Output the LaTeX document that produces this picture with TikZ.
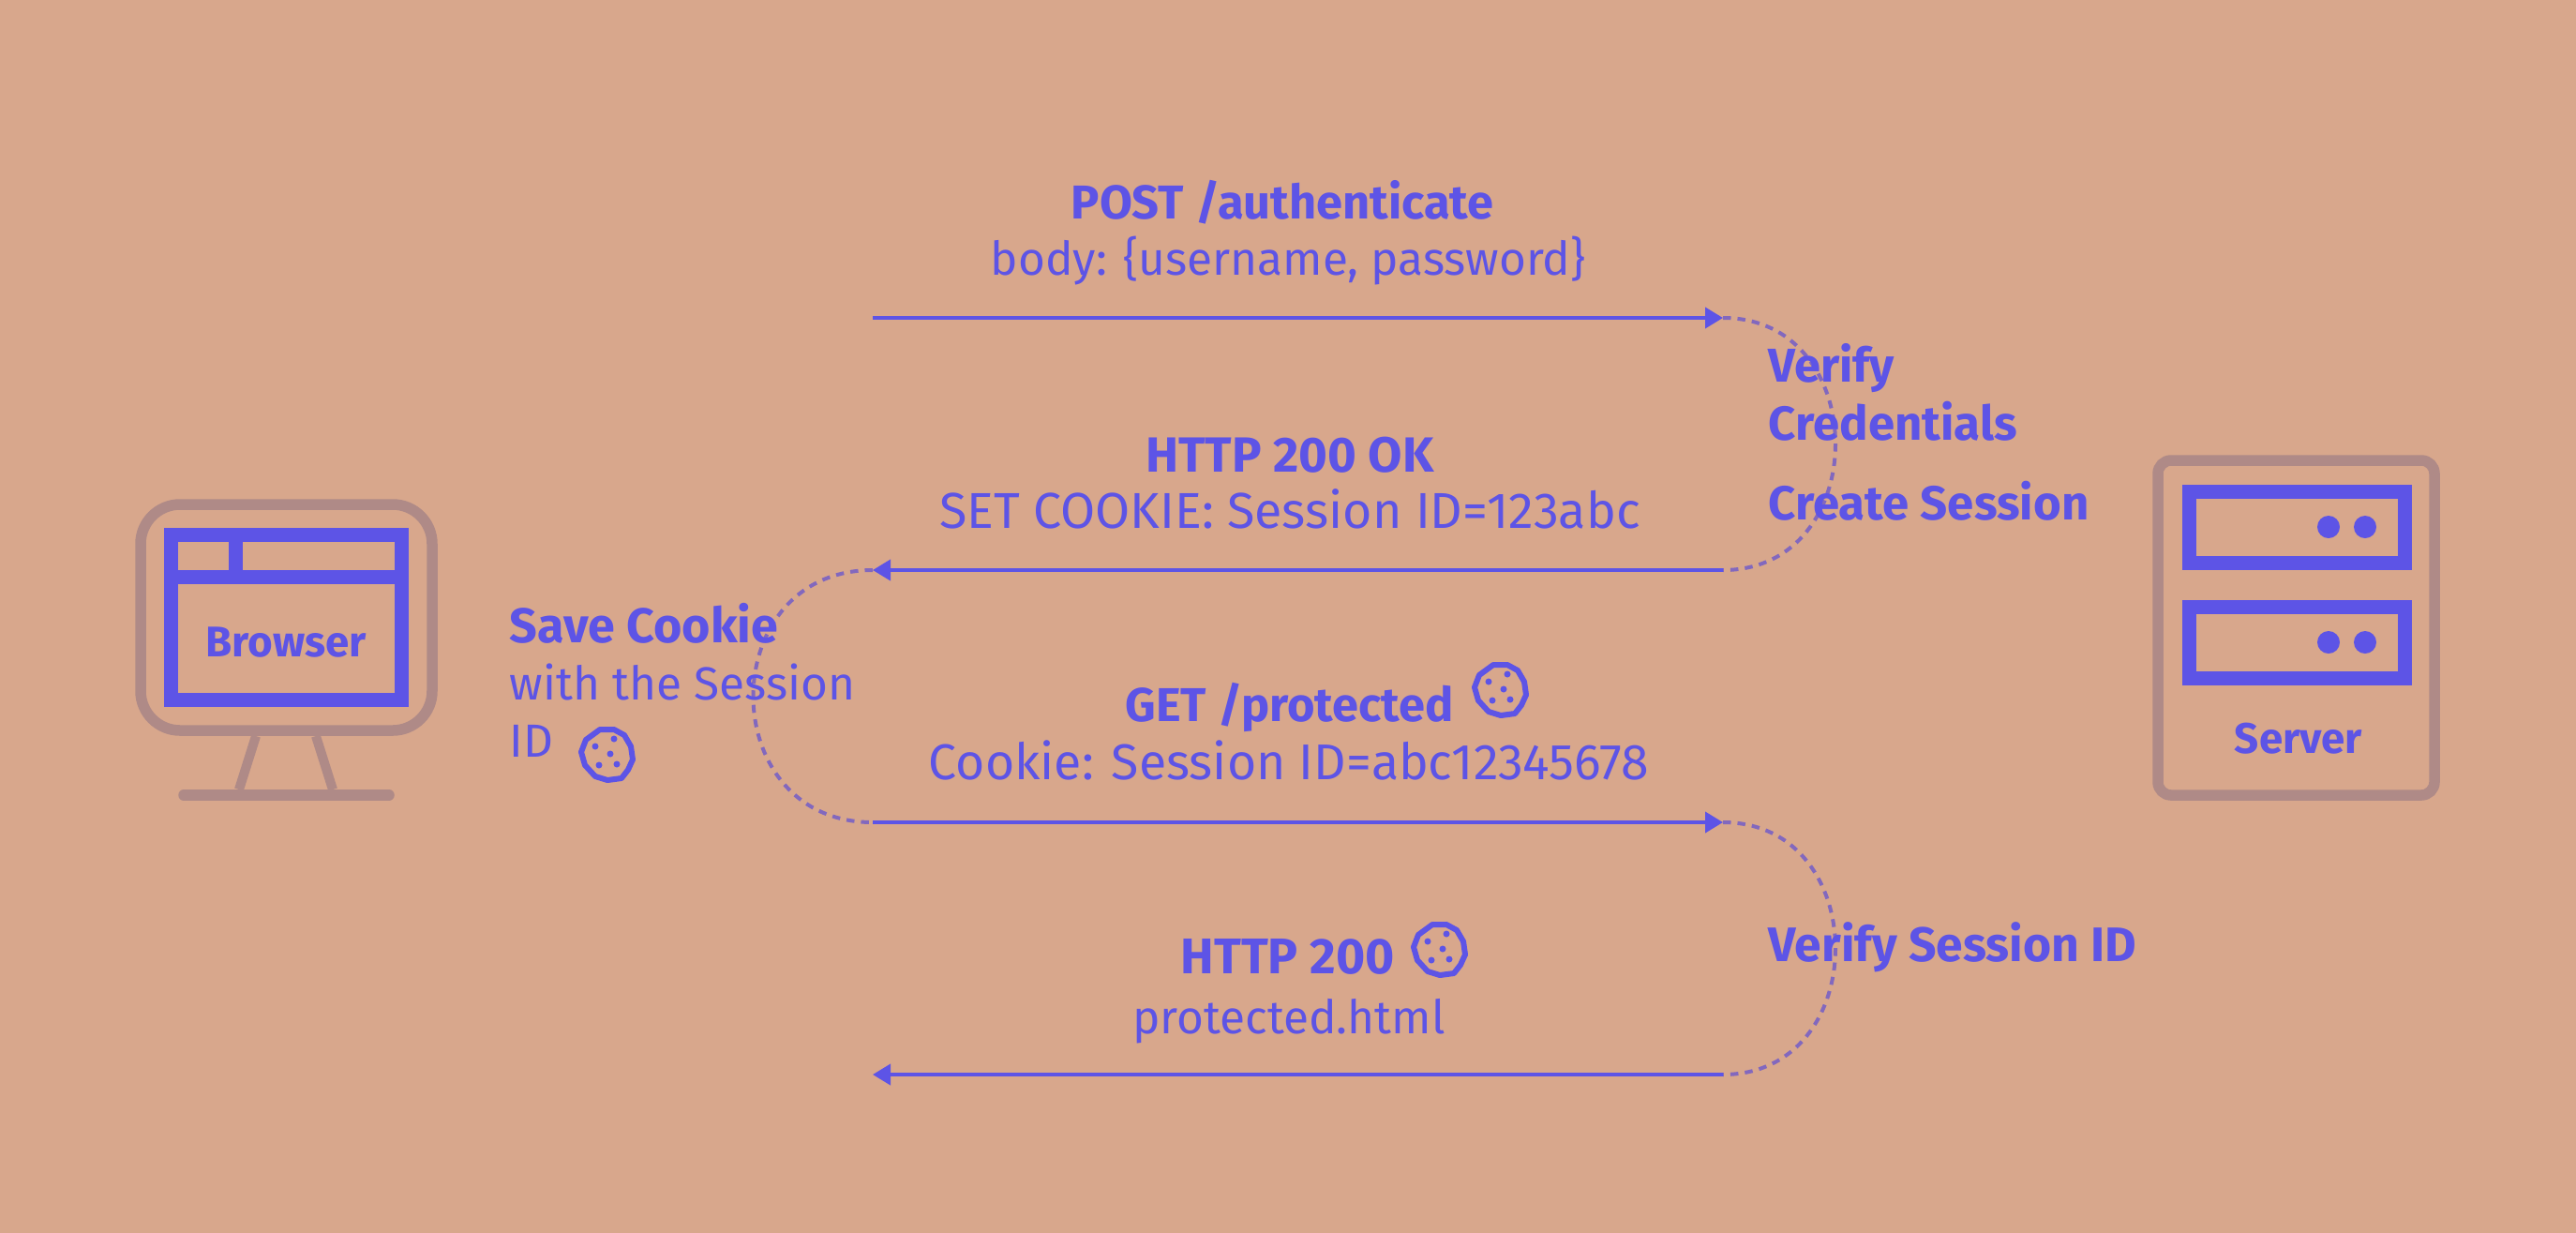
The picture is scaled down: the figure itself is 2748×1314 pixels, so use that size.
\documentclass[tikz,border=0pt]{standalone}
\usepackage{fontspec}
\setmainfont{Fira Sans}
\usetikzlibrary{arrows.meta}
\definecolor{mbg}{RGB}{216,167,140}
\definecolor{mblue}{RGB}{93,84,230}
\definecolor{mmauve}{RGB}{175,138,135}
\definecolor{mdash}{RGB}{130,104,190}
\tikzset{msg/.style = {line width = 0.38mm, mblue, -{Triangle[length = 1.9mm, width = 2.2mm]}}}
\tikzset{hop/.style = {line width = 0.4mm, mdash, dash pattern = on 0.85mm off 0.7mm}}
\tikzset{frame/.style = {line width = 1.15mm, mmauve}}
\tikzset{panel/.style = {line width = 1.5mm, mblue}}
\tikzset{head/.style = {inner sep = 0, text = mblue, font = \fontsize{#1}{17}\selectfont\bfseries}, head/.default = 14.4}
\tikzset{body/.style = {inner sep = 0, text = mblue, font = \fontsize{#1}{17}\selectfont}, body/.default = 14.1}
\tikzset{tag/.style = {inner sep = 0, text = mblue, font = \fontsize{13}{15}\selectfont\bfseries}}
\tikzset{crumb/.style = {fill = mblue, circle, inner sep = 0, minimum size = 0.7mm}}
\tikzset{cookie/.pic = {
    \draw [line width = 0.6mm, mblue, line join = round]
      (-7, -26) -- (8, -26) -- (19, -20) -- (26, -8) -- (28, 6) -- (23, 17)
      -- (16, 26) -- (1, 28) -- (-12, 24) -- (-23, 12) -- (-27, -2) -- (-22, -15) -- cycle;
    \node [crumb] at (-12, -8) {};
    \node [crumb] at (8, -16) {};
    \node [crumb] at (4, 0) {};
    \node [crumb] at (-8, 12) {};
    \node [crumb] at (11, 11) {};
}}

\begin{document}
\begin{tikzpicture}[x=0.1mm, y=-0.1mm]
      \useasboundingbox (0, 0) rectangle (2748, 1314);
      \fill [mbg] (-5, -5) rectangle (2753, 1319);

      % browser
      \draw [frame, line width = 1mm] (273, 785) -- (255, 842);
      \draw [frame, line width = 1mm] (337, 785) -- (355, 842);
      \draw [frame, line cap = round] (196, 848) -- (415, 848);
      \draw [frame, rounded corners = 4.2mm] (150, 538) rectangle (461, 779);
      \draw [panel] (182, 570) rectangle (428, 746);
      \draw [panel] (182, 615) -- (428, 615);
      \draw [panel] (251, 570) -- (251, 615);
      \node [tag, anchor = base] (browser) at (305, 700) {Browser};

      % server
      \draw [frame, rounded corners = 1.4mm] (2302, 491) rectangle (2597, 848);
      \draw [panel] (2335, 524) rectangle (2565, 600);
      \draw [panel] (2335, 647) rectangle (2565, 723);
      \fill [mblue] (2484, 562) circle (12) (2523, 562) circle (12);
      \fill [mblue] (2484, 685) circle (12) (2523, 685) circle (12);
      \node [tag, anchor = base] (server) at (2452, 803) {Server};

      % message ends
      \coordinate (cl1) at (931, 339);
      \coordinate (sv1) at (1838, 339);
      \coordinate (cl2) at (931, 608);
      \coordinate (sv2) at (1838, 608);
      \coordinate (cl3) at (931, 877);
      \coordinate (sv3) at (1838, 877);
      \coordinate (cl4) at (931, 1146);
      \coordinate (sv4) at (1838, 1146);

      \draw [hop] (sv1) .. controls +(160, 0) and +(160, 0) .. (sv2);
      \draw [hop] (cl2) .. controls +(-170, 0) and +(-170, 0) .. (cl3);
      \draw [hop] (sv3) .. controls +(160, 0) and +(160, 0) .. (sv4);

      \draw [msg] (cl1) -- (sv1);
      \draw [msg] (sv2) -- (cl2);
      \draw [msg] (cl3) -- (sv3);
      \draw [msg] (sv4) -- (cl4);

      \node [head, anchor = base] (post) at (1368, 233) {POST /authenticate};
      \node [body, anchor = base] (postbody) at (1374, 293) {body: \{username, password\}};
      \node [head = 15, anchor = base] (okhead) at (1376, 503) {HTTP 200 OK};
      \node [body = 15.3, anchor = base] (okbody) at (1376, 563) {SET COOKIE: Session ID=123abc};
      \node [head, anchor = base west] (get) at (1200, 769) {GET /protected};
      \node [body = 15.25, anchor = base] (getbody) at (1375, 831) {Cookie: Session ID=abc12345678};
      \node [head = 15.2, anchor = base west] (done) at (1259, 1038) {HTTP 200};
      \node [body, anchor = base] (donebody) at (1375, 1102) {protected.html};

      \node [head, anchor = base west] (verify) at (1886, 407) {Verify};
      \node [head = 14.5, anchor = base west] (creds) at (1886, 469) {Credentials};
      \node [head = 14.5, anchor = base west] (create) at (1886, 554) {Create Session};
      \node [head = 14.7, anchor = base west] (check) at (1886, 1025) {Verify Session ID};

      \node [head = 14.8, anchor = base west] (save) at (543, 685) {Save Cookie};
      \node [body, anchor = base west] (with) at (543, 746) {with the Session};
      \node [body, anchor = base west] (sid) at (543, 807) {ID};

      \pic at (647, 804) {cookie};
      \pic at (1600, 735) {cookie};
      \pic at (1535, 1012) {cookie};
\end{tikzpicture}
\end{document}
